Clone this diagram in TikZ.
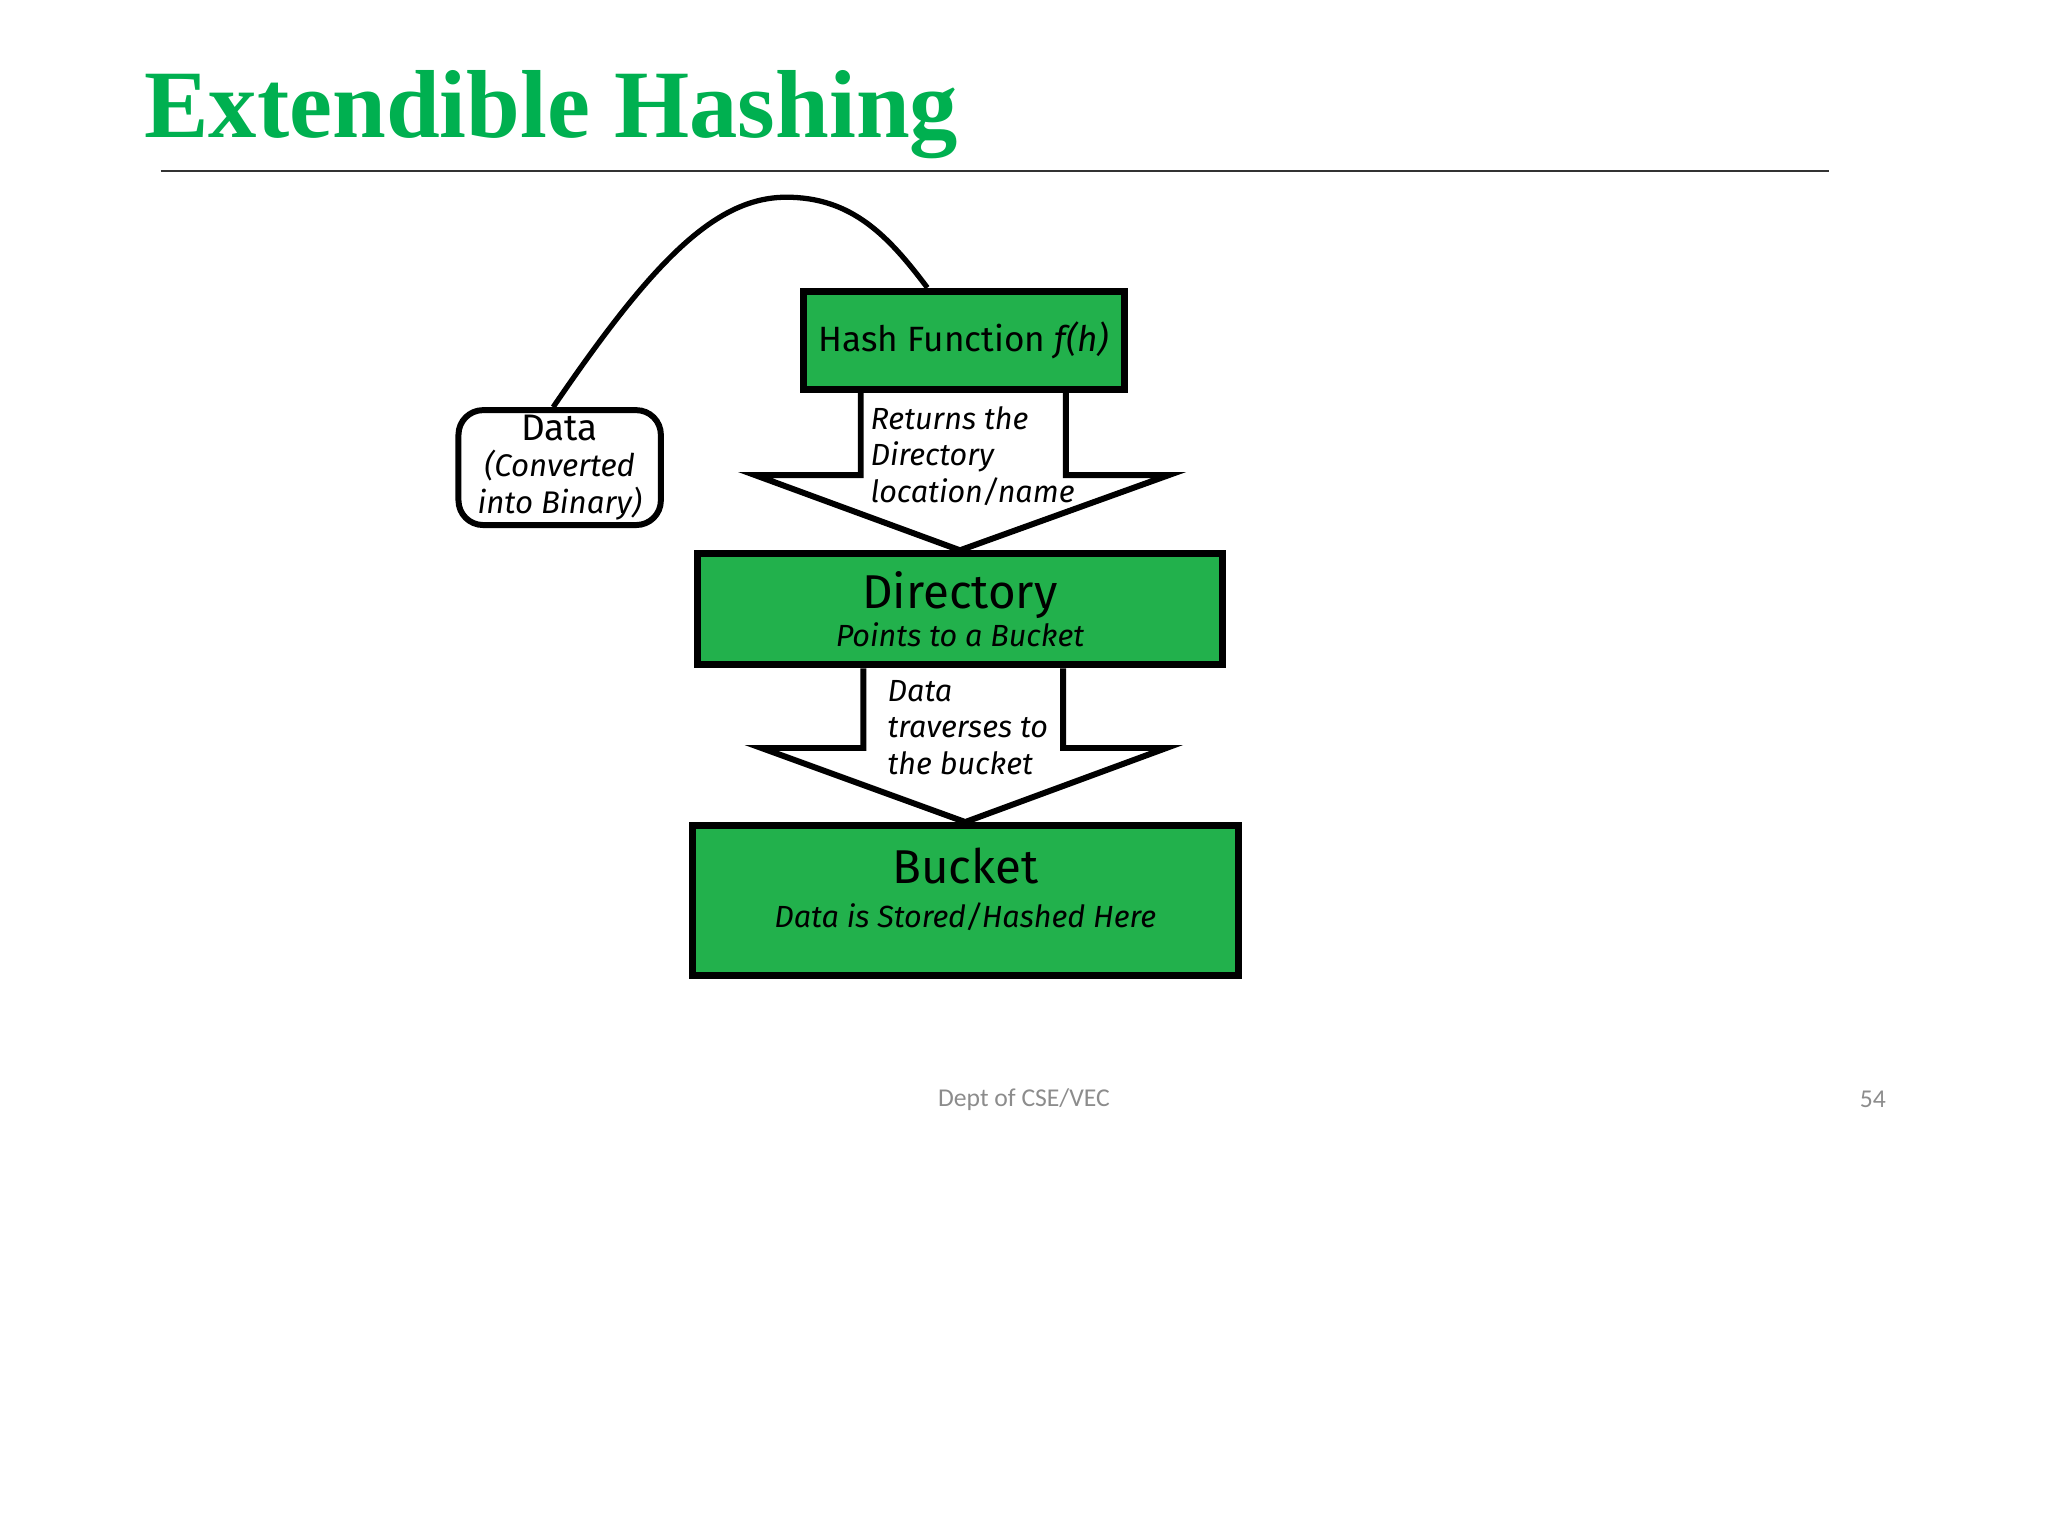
\documentclass[tikz,border=0pt]{standalone}
\usepackage{fontspec}
\setmainfont{Liberation Serif}
\setsansfont{Fira Sans}
\newfontfamily\footfont{Carlito}
\usetikzlibrary{calc}
\definecolor{ctitle}{HTML}{00B050}
\definecolor{cbox}{HTML}{22B14C}
\definecolor{cfoot}{HTML}{8C8C8C}
\tikzset{
  every picture/.style={font=\sffamily},
  box/.style={draw=black, fill=cbox, line width=2pt, align=center, inner sep=0pt},
  databox/.style={draw=black, fill=white, line width=1.7pt, rounded corners=7pt, align=center, inner sep=0pt},
  flow/.style={draw=black, line width=1.7pt, line join=miter},
  link/.style={draw=black, line width=1.5pt},
  flowtext/.style={font={\sffamily\itshape\fontsize{8.7}{10.4}\selectfont}, align=left, inner sep=0pt},
  heading/.style={font={\rmfamily\bfseries\fontsize{27.5}{30}\selectfont}, text=ctitle, inner sep=0pt},
  foot/.style={font={\footfont\fontsize{7.3}{9}\selectfont}, text=cfoot, inner sep=0pt},
}

\begin{document}
\begin{tikzpicture}[x=0.01306cm, y=-0.01306cm]
  \useasboundingbox (0,0) rectangle (1568,1176);
  \node[heading, anchor=base west] (title) at (110,105) {Extendible Hashing};
  \draw[line width=0.45pt, black!80] (123,131) -- (1400,131);
  \node[box, minimum width=3.213cm, minimum height=0.98cm, font={\sffamily\fontsize{10}{12}\selectfont}] (hash) at (738,260.5) {Hash Function \textit{f(h)}};
  \node[databox, minimum width=2.024cm, minimum height=1.149cm, font={\sffamily\fontsize{8.9}{10.4}\selectfont}] (data) at (428.5,358) {{\fontsize{10.5}{12}\selectfont Data}\\{\itshape (Converted}\\{\itshape into Binary)}};
  \node[box, minimum width=5.25cm, minimum height=1.11cm, font={\sffamily\fontsize{8.7}{11}\selectfont}] (dir) at (735,466.5) {{\fontsize{13.5}{15}\selectfont Directory}\\{\itshape Points to a Bucket}};
  \node[box, minimum width=5.46cm, minimum height=1.50cm, text depth=7.5pt, font={\sffamily\fontsize{8.7}{11}\selectfont}] (bucket) at (739,689.5) {{\fontsize{13.5}{15}\selectfont Bucket}\\[1.5pt]{\itshape Data is Stored/Hashed Here}};
  \draw[link] ($(data.north)+(-5,0)$) .. controls +(75,-110) and +(-55,0) .. (602,151) .. controls +(50,0) and +(-30,-40) .. ($(hash.north)+(-28,0)$);
  \draw[flow] ($(hash.south)+(-79,0)$) -- ++(0,63) -- ++(-81,0) -- (dir.north) -- ($(hash.south)+(157,63)$) -- ++(-79,0) -- ++(0,-63);
  \node[flowtext, anchor=west] (ret) at (666,349) {Returns the\\Directory\\location/name};
  \draw[flow] ($(dir.south)+(-74,0)$) -- ++(0,61) -- ++(-78,0) -- (bucket.north) -- ($(dir.south)+(158,61)$) -- ++(-79,0) -- ++(0,-61);
  \node[flowtext, anchor=west] (trav) at (679,557) {Data\\traverses to\\the bucket};
  \node[foot] (dept) at (784,842) {Dept of CSE/VEC};
  \node[foot] (page) at (1434,842) {54};
\end{tikzpicture}
\end{document}
